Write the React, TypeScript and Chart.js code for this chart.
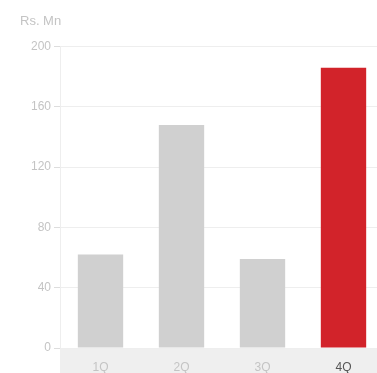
import React, { useEffect, useRef } from "react";
import { Chart, registerables } from "chart.js";

Chart.register(...registerables);

const categories = ["1Q", "2Q", "3Q", "4Q"];
const values = [62, 148, 59, 186];
const yTicks = [0, 40, 80, 120, 160, 200];
const titleText = "Rs. Mn";

const GREY = "#d0d0d0";
const RED = "#d2232a";

const axisBand = {
  id: "axisBand",
  beforeDraw(chart: any) {
    const x = chart.scales.x;
    const ctx = chart.ctx;
    ctx.save();
    ctx.fillStyle = "#efefef";
    ctx.fillRect(x.left, x.top + 1, x.right - x.left + 10, x.bottom - x.top);
    ctx.restore();
  },
};

export default function App() {
  const ref = useRef<HTMLCanvasElement>(null);
  useEffect(() => {
    if (!ref.current) return;
    const chart = new Chart(ref.current, {
      type: "bar",
      data: {
        labels: categories,
        datasets: [
          {
            data: values,
            backgroundColor: values.map((_, i) => (i === values.length - 1 ? RED : GREY)),
            borderWidth: 0,
            barPercentage: 0.56,
            categoryPercentage: 1,
          },
        ],
      },
      plugins: [axisBand],
      options: {
        responsive: false,
        animation: false,
        layout: { padding: { left: 20, right: 2, top: 0, bottom: 0 } },
        plugins: {
          legend: { display: false },
          tooltip: { enabled: false },
          title: {
            display: true,
            text: titleText,
            align: "start",
            color: "#c4c4c4",
            font: { family: "Arial, 'Liberation Sans', sans-serif", size: 13, weight: "normal" },
            padding: { top: 14, bottom: 17 },
          },
        },
        scales: {
          x: {
            grid: { display: false },
            border: { display: false },
            ticks: {
              padding: 4,
              color: (c: any) => (c.index === categories.length - 1 ? "#555555" : "#c4c4c4"),
              font: { family: "Arial, 'Liberation Sans', sans-serif", size: 12 },
            },
            afterFit(scale: any) {
              scale.height = 25;
            },
          },
          y: {
            min: 0,
            max: 200,
            afterBuildTicks(scale: any) {
              scale.ticks = yTicks.map((v) => ({ value: v }));
            },
            afterFit(scale: any) {
              scale.width = 40;
            },
            grid: { color: "#eeeeee", tickLength: 6, tickColor: "#dddddd" },
            border: { display: true, color: "#eeeeee" },
            ticks: {
              padding: 3,
              color: "#c4c4c4",
              font: { family: "Arial, 'Liberation Sans', sans-serif", size: 12 },
            },
          },
        },
      },
    });
    return () => chart.destroy();
  }, []);
  return (
    <div style={{ position: "absolute", left: 0, top: 0, width: 377, height: 373, overflow: "hidden", background: "#fff" }}>
      <canvas ref={ref} width={386} height={373} style={{ display: "block" }} />
    </div>
  );
}
